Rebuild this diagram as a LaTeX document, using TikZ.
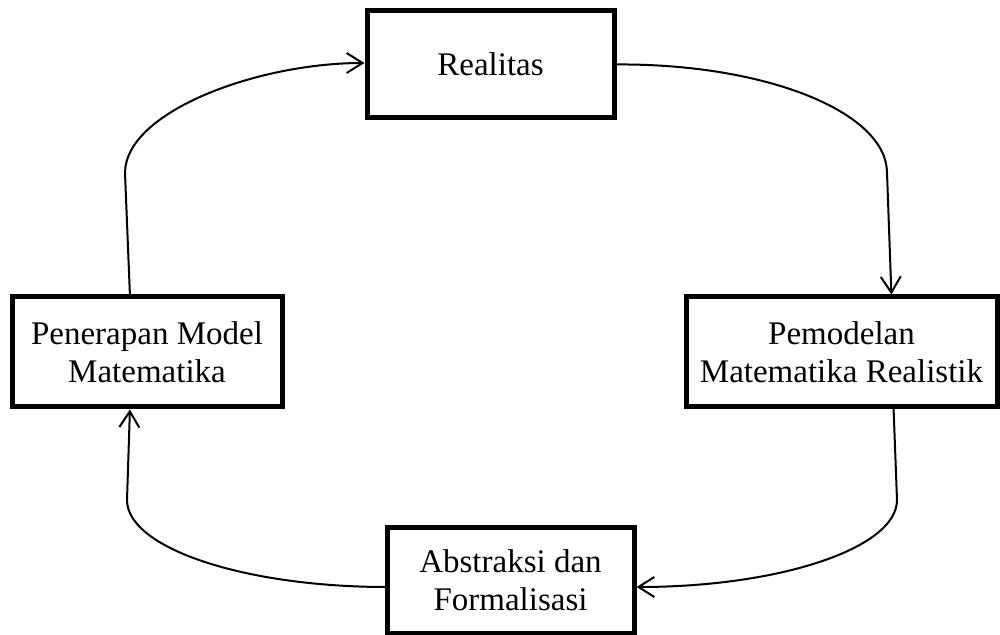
\documentclass[tikz,border=0pt]{standalone}
\usepackage{fontspec}
\setmainfont{Liberation Serif}
\usetikzlibrary{positioning, arrows.meta, calc}

\begin{document}
\begin{tikzpicture}[
        on grid,
        box/.style={draw, line width=2.5pt, outer sep=0pt, align=center, font=\fontsize{16.5}{19}\selectfont},
        arrow/.style={-{Straight Barb[length=8pt, width=10pt]}, line width=1pt, shorten >=1.25pt}
    ]

    \useasboundingbox (0,0) rectangle (500pt,-317.5pt);

    \node[box, minimum width=123.5pt, minimum height=53.5pt] (realitas) at (245.25pt,-32.25pt) {Realitas};
    \node[box, minimum width=155.5pt, minimum height=55pt, below right=143.75pt and 175.5pt of realitas] (pemodelan) {Pemodelan\\Matematika Realistik};
    \node[box, minimum width=135pt, minimum height=55pt, below left=143.75pt and 171.75pt of realitas] (penerapan) {Penerapan Model\\Matematika};
    \node[box, minimum width=123.5pt, minimum height=53pt, below right=257.75pt and 10pt of realitas] (abstraksi) {Abstraksi dan\\Formalisasi};

    % siklus
    \draw[arrow] (realitas.east) .. controls (382.5pt,-31.5pt) and (443.5pt,-56pt) .. (443.5pt,-86.5pt) -- ([xshift=25pt]pemodelan.north);
    \draw[arrow] ([xshift=26pt]pemodelan.south) -- (448.5pt,-250pt) .. controls (448.5pt,-274pt) and (390pt,-293.5pt) .. ([yshift=-3.5pt]abstraksi.east);
    \draw[arrow] ([yshift=-3.5pt]abstraksi.west) .. controls (122pt,-293.5pt) and (63.5pt,-274pt) .. (63.5pt,-250pt) -- ([xshift=-8.5pt]penerapan.south);
    \draw[arrow] ([xshift=-8.5pt]penerapan.north) -- (62.5pt,-86.5pt) .. controls (62.5pt,-56pt) and (128.5pt,-31.5pt) .. ([yshift=0.75pt]realitas.west);

\end{tikzpicture}
\end{document}
